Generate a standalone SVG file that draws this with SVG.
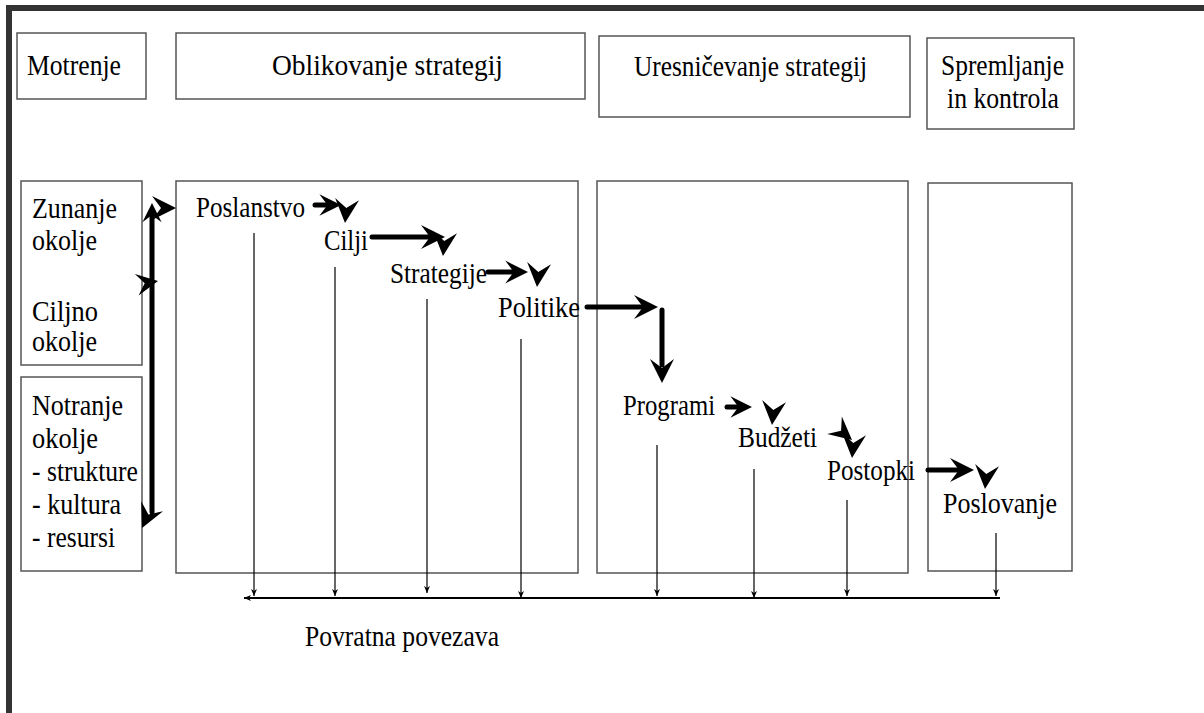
<svg xmlns="http://www.w3.org/2000/svg" xmlns:xlink="http://www.w3.org/1999/xlink" width="1204" height="713" viewBox="0 0 1204 713">
<style>
  .box { fill: #fff; stroke: #555; stroke-width: 1.5; }
  .t { font-family: "Liberation Serif", "Times New Roman", serif; font-size: 30px; fill: #000; }
  .thick { stroke: #000; stroke-width: 5; fill: none; stroke-linecap: round; }
  .thin { stroke: #000; stroke-width: 1.2; fill: none; }
  .fb { stroke: #000; stroke-width: 2; fill: none; }
  .head { fill: #000; }
</style>
<defs>
  <path id="ah" d="M0,0 L-24,-12 L-15,0 L-24,12 Z"/>
  <marker id="sm" markerWidth="8" markerHeight="8" refX="7" refY="4" orient="auto" markerUnits="userSpaceOnUse">
    <path d="M0,1 L7,4 L0,7 L2,4 Z" fill="#000"/>
  </marker>
</defs>
<rect width="1204" height="713" fill="#fff"/>
<g id="frame">
  <line x1="6" y1="8" x2="1204" y2="8" stroke="#333" stroke-width="6"/>
  <line x1="9" y1="5" x2="9" y2="713" stroke="#333" stroke-width="6"/>
</g>
<g id="motrenje"><rect class="box" x="17" y="33" width="129" height="66"/><text class="t" x="27" y="75" textLength="94" lengthAdjust="spacingAndGlyphs">Motrenje</text></g>
<g id="oblikovanje"><rect class="box" x="176" y="33" width="409" height="66"/><text class="t" x="272" y="75" textLength="231" lengthAdjust="spacingAndGlyphs">Oblikovanje strategij</text></g>
<g id="uresnicevanje"><rect class="box" x="599" y="36" width="311" height="81"/><text class="t" x="634" y="76" textLength="233" lengthAdjust="spacingAndGlyphs">Uresničevanje strategij</text></g>
<g id="spremljanje"><rect class="box" x="927" y="38" width="147" height="91"/><text class="t" x="941" y="75" textLength="123" lengthAdjust="spacingAndGlyphs">Spremljanje</text><text class="t" x="947" y="108" textLength="112" lengthAdjust="spacingAndGlyphs">in kontrola</text></g>
<g id="zunanje"><rect class="box" x="21" y="181" width="121" height="184"/>
  <text class="t" x="32" y="218" textLength="85" lengthAdjust="spacingAndGlyphs">Zunanje</text><text class="t" x="32" y="250" textLength="65" lengthAdjust="spacingAndGlyphs">okolje</text>
  <text class="t" x="32" y="321" textLength="66" lengthAdjust="spacingAndGlyphs">Ciljno</text><text class="t" x="32" y="351" textLength="65" lengthAdjust="spacingAndGlyphs">okolje</text></g>
<g id="notranje"><rect class="box" x="21" y="377" width="121" height="194"/>
  <text class="t" x="32" y="415" textLength="91" lengthAdjust="spacingAndGlyphs">Notranje</text><text class="t" x="32" y="448" textLength="66" lengthAdjust="spacingAndGlyphs">okolje</text>
  <text class="t" x="32" y="481" textLength="106" lengthAdjust="spacingAndGlyphs">- strukture</text><text class="t" x="32" y="514" textLength="89" lengthAdjust="spacingAndGlyphs">- kultura</text><text class="t" x="32" y="547" textLength="83" lengthAdjust="spacingAndGlyphs">- resursi</text></g>
<g id="oblikovanje-panel"><rect class="box" x="176" y="181" width="402" height="392"/></g>
<g id="uresnicevanje-panel"><rect class="box" x="597" y="181" width="311" height="392"/></g>
<g id="spremljanje-panel"><rect class="box" x="928" y="183" width="144" height="388"/></g>
<g id="poslanstvo"><text class="t" x="196" y="217" textLength="109" lengthAdjust="spacingAndGlyphs">Poslanstvo</text></g>
<g id="cilji"><text class="t" x="324" y="250" textLength="44" lengthAdjust="spacingAndGlyphs">Cilji</text></g>
<g id="strategije"><text class="t" x="390" y="283" textLength="97" lengthAdjust="spacingAndGlyphs">Strategije</text></g>
<g id="politike"><text class="t" x="498" y="317" textLength="82" lengthAdjust="spacingAndGlyphs">Politike</text></g>
<g id="programi"><text class="t" x="623" y="415" textLength="92" lengthAdjust="spacingAndGlyphs">Programi</text></g>
<g id="budzeti"><text class="t" x="738" y="447" textLength="79" lengthAdjust="spacingAndGlyphs">Budžeti</text></g>
<g id="postopki"><text class="t" x="827" y="480" textLength="88" lengthAdjust="spacingAndGlyphs">Postopki</text></g>
<g id="poslovanje"><text class="t" x="943" y="513" textLength="114" lengthAdjust="spacingAndGlyphs">Poslovanje</text></g>
<g id="povratna"><text class="t" x="305" y="646" textLength="194" lengthAdjust="spacingAndGlyphs">Povratna povezava</text></g>
<g id="connectors">
  <!-- left vertical -->
  <line class="thick" x1="152" y1="214" x2="152" y2="512" stroke-width="6"/>
  <use href="#ah" class="head" transform="translate(152,203) rotate(-90) scale(0.8)"/>
  <use href="#ah" class="head" transform="translate(176,208)"/>
  <use href="#ah" class="head" transform="translate(158,281) rotate(-10) scale(0.9)"/>
  <use href="#ah" class="head" transform="translate(142,528) rotate(115)"/>
  <!-- Poslanstvo -> Cilji -->
  <line class="thick" x1="315" y1="205" x2="330" y2="205"/>
  <use href="#ah" class="head" transform="translate(341,205) scale(0.9)"/>
  <use href="#ah" class="head" transform="translate(345,223) rotate(95)"/>
  <!-- Cilji -> Strategije -->
  <line class="thick" x1="372" y1="237" x2="430" y2="237"/>
  <use href="#ah" class="head" transform="translate(445,237)"/>
  <use href="#ah" class="head" transform="translate(443,256) rotate(95)"/>
  <!-- Strategije -> Politike -->
  <line class="thick" x1="488" y1="272" x2="515" y2="272"/>
  <use href="#ah" class="head" transform="translate(528,272) scale(0.95)"/>
  <use href="#ah" class="head" transform="translate(537,287) rotate(95)"/>
  <!-- Politike -> Programi -->
  <line class="thick" x1="587" y1="307" x2="642" y2="307"/>
  <use href="#ah" class="head" transform="translate(658,307)"/>
  <line class="thick" x1="662" y1="310" x2="662" y2="365"/>
  <use href="#ah" class="head" transform="translate(662,383) rotate(90)"/>
  <!-- Programi -> Budzeti -->
  <line class="thick" x1="727" y1="407" x2="740" y2="407"/>
  <use href="#ah" class="head" transform="translate(752,407) scale(0.9)"/>
  <use href="#ah" class="head" transform="translate(772,425) rotate(95)"/>
  <!-- Budzeti -> Postopki -->
  <use href="#ah" class="head" transform="translate(852,440) rotate(40) scale(0.95)"/>
  <use href="#ah" class="head" transform="translate(852,458) rotate(95)"/>
  <!-- Postopki -> Poslovanje -->
  <line class="thick" x1="928" y1="470" x2="960" y2="470"/>
  <use href="#ah" class="head" transform="translate(974,470)"/>
  <use href="#ah" class="head" transform="translate(985,489) rotate(95)"/>
  <!-- feedback -->
  <line class="thin" x1="254" y1="233" x2="254" y2="596" marker-end="url(#sm)"/>
  <line class="thin" x1="335" y1="267" x2="335" y2="596" marker-end="url(#sm)"/>
  <line class="thin" x1="427" y1="299" x2="427" y2="593" marker-end="url(#sm)"/>
  <line class="thin" x1="521" y1="339" x2="521" y2="598" marker-end="url(#sm)"/>
  <line class="thin" x1="657" y1="445" x2="657" y2="596" marker-end="url(#sm)"/>
  <line class="thin" x1="754" y1="469" x2="754" y2="598" marker-end="url(#sm)"/>
  <line class="thin" x1="847" y1="500" x2="847" y2="596" marker-end="url(#sm)"/>
  <line class="thin" x1="996" y1="533" x2="996" y2="596" marker-end="url(#sm)"/>
  <line class="fb" x1="1000" y1="598" x2="244" y2="598" marker-end="url(#sm)"/>
</g>
</svg>
